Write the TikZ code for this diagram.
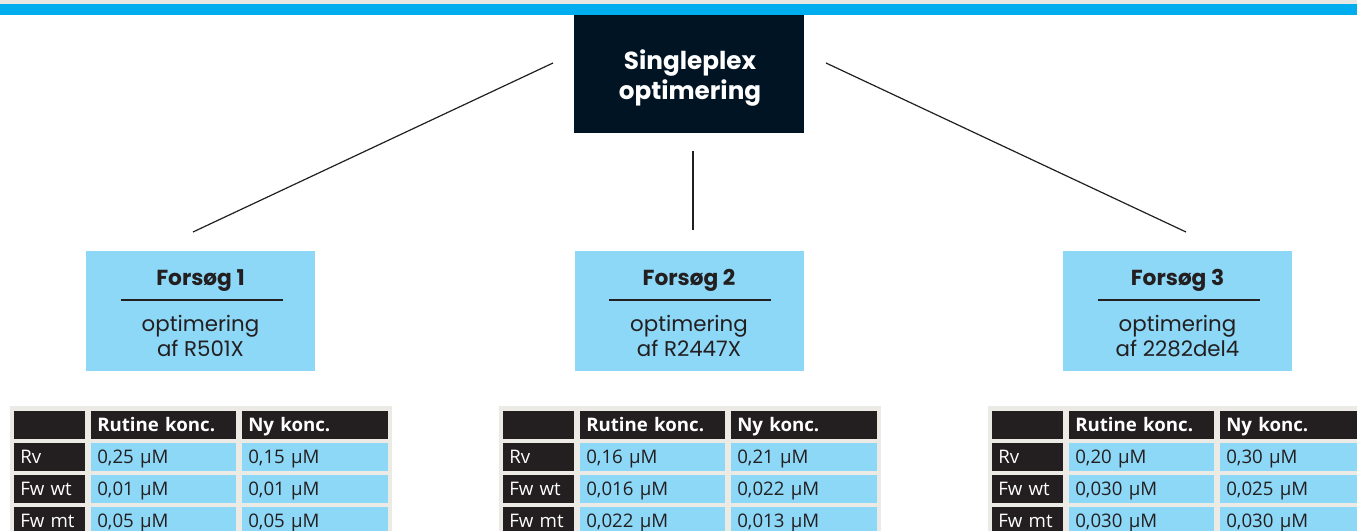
\documentclass[tikz,border=0pt]{standalone}
\usepackage{fontspec}
\setmainfont{Open Sans}
\newfontfamily\geofont{Poppins}
\usetikzlibrary{calc}
\definecolor{topblue}{HTML}{00AEEF}
\definecolor{bandgray}{HTML}{E6E6E3}
\definecolor{navy}{HTML}{001423}
\definecolor{lblue}{HTML}{8DD7F7}
\definecolor{ink}{HTML}{231F20}
\definecolor{tgray}{HTML}{EBEAE5}
\tikzset{
  mainbox/.style={rectangle, fill=navy, minimum width=172.5pt, minimum height=88.5pt, inner sep=0pt},
  maintext/.style={inner sep=0pt, text=white, align=center, font=\geofont\bfseries\fontsize{18.5}{22}\selectfont},
  trialbox/.style={rectangle, fill=lblue, minimum width=171.75pt, minimum height=90pt, inner sep=0pt},
  trialtitle/.style={anchor=base, inner sep=0pt, text=ink, font=\geofont\bfseries\fontsize{16.3}{18}\selectfont},
  trialbody/.style={anchor=base, inner sep=0pt, text=ink, font=\geofont\fontsize{16}{18.75}\selectfont},
  rulebar/.style={draw=ink, line width=1.6pt},
  conn/.style={draw=ink, line width=0.9pt},
  cell/.style={rectangle, anchor=north west, inner ysep=0pt, inner xsep=4.5pt, text height=10pt, text depth=0pt,
    minimum height=20.6pt, align=left, font=\fontsize{14}{16}\selectfont},
  hdr/.style={cell, fill=ink, text=white, font=\bfseries\fontsize{14}{16}\selectfont},
  lab/.style={cell, fill=ink, text=white},
  val/.style={cell, fill=lblue, text=ink},
  wa/.style={text width=44.25pt},
  wb/.style={text width=99.75pt},
  wc/.style={text width=100.5pt},
}
\newcommand\conctable[8]{%
  \begin{scope}[shift={(#1,0)}]
    \fill[tgray] (10,406) rectangle (392,540);
    \node[hdr, wa] (#2h0) at (14,411) {};
    \node[hdr, wb] (#2h1) at (91,411) {Rutine konc.};
    \node[hdr, wc] (#2h2) at (242,411) {Ny konc.};
    \node[lab, wa] (#2a0) at (14,443) {Rv};
    \node[val, wb] (#2a1) at (91,443) {#3};
    \node[val, wc] (#2a2) at (242,443) {#4};
    \node[lab, wa] (#2b0) at (14,475) {Fw wt};
    \node[val, wb] (#2b1) at (91,475) {#5};
    \node[val, wc] (#2b2) at (242,475) {#6};
    \node[lab, wa] (#2c0) at (14,507) {Fw mt};
    \node[val, wb] (#2c1) at (91,507) {#7};
    \node[val, wc] (#2c2) at (242,507) {#8};
  \end{scope}}
\newcommand\trial[5]{%
  \node[trialbox] (#2) at (#1,311) {};
  \node[trialtitle] (#2t) at (#1,286) {#3};
  \draw[rulebar] ($(#2.center)+(-80,-11)$) -- ($(#2.center)+(82,-11)$);
  \node[trialbody] (#2p) at (#1,331) {#4};
  \node[trialbody] (#2q) at (#1,356) {#5};}
\begin{document}
\begin{tikzpicture}[x=0.75pt,y=-0.75pt]
  \useasboundingbox (0,0) rectangle (1357,531);
  \clip (0,0) rectangle (1357,531);
  \fill[white] (0,0) rectangle (1357,531);
  \fill[bandgray] (0,0) rectangle (1357,4);
  \fill[topblue] (0,4) rectangle (1357,15);
  \node[mainbox] (top) at (689,74) {};
  \node[maintext] (toptext) at (690,78) {Singleplex\\optimering};
  \trial{200.5}{f1}{Forsøg 1}{optimering}{af R501X}
  \trial{689}{f2}{Forsøg 2}{optimering}{af R2447X}
  \trial{1177.5}{f3}{Forsøg 3}{optimering}{af 2282del4}
  \coordinate (l1a) at (553,63);
  \coordinate (l1b) at (193,232);
  \coordinate (m1a) at (693,151);
  \coordinate (m1b) at (693,230);
  \coordinate (r1a) at (826,63);
  \coordinate (r1b) at (1186,232);
  \draw[conn] (l1a) -- (l1b);
  \draw[conn] (m1a) -- (m1b);
  \draw[conn] (r1a) -- (r1b);
  \conctable{0}{ta}{0,25 µM}{0,15 µM}{0,01 µM}{0,01 µM}{0,05 µM}{0,05 µM}
  \conctable{489}{tb}{0,16 µM}{0,21 µM}{0,016 µM}{0,022 µM}{0,022 µM}{0,013 µM}
  \conctable{978}{tc}{0,20 µM}{0,30 µM}{0,030 µM}{0,025 µM}{0,030 µM}{0,030 µM}
\end{tikzpicture}
\end{document}
